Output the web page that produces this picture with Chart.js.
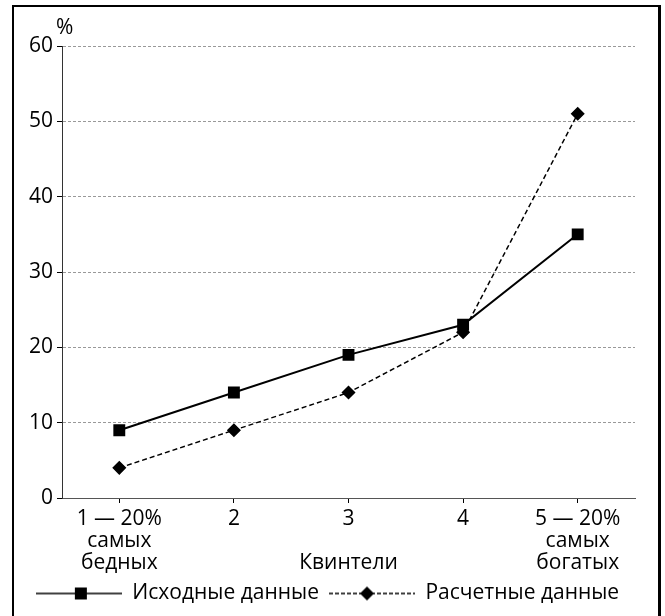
<!DOCTYPE html>
<html>
<head>
<meta charset="utf-8">
<script src="https://cdn.jsdelivr.net/npm/chart.js@4"></script>
<style>
  html, body { margin: 0; padding: 0; background: #fff; }
  #wrap { position: relative; width: 665px; height: 616px; }
  #frame {
    position: absolute; left: 12px; top: 5px; width: 644px; height: 640px;
    border-left: 2px solid #000; border-top: 2px solid #000; border-right: 3px solid #000;
  }
  canvas { position: absolute; left: 0; top: 0; }
</style>
</head>
<body>
<div id="wrap">
  <div id="frame"></div>
  <canvas id="chart" width="665" height="616"></canvas>
</div>
<script>
// ── Data ──────────────────────────────────────────────────
const quintiles  = [['1 — 20%', 'самых', 'бедных'], '2', '3', '4', ['5 — 20%', 'самых', 'богатых']];
const sourceData = [9, 14, 19, 23, 35];   // Исходные данные
const calcData   = [4, 9, 14, 22, 51];    // Расчетные данные
const yTicks     = [0, 10, 20, 30, 40, 50, 60];

const FONT = 'Open Sans, Lato, sans-serif';
const FS   = 21;

// legend symbol: line with a marker in the middle
function legendSymbol(dashed, marker) {
  const c = document.createElement('canvas');
  c.width = 86; c.height = 16;
  const g = c.getContext('2d');
  g.strokeStyle = '#000';
  g.lineWidth = dashed ? 1.3 : 1.6;
  if (dashed) g.setLineDash([4, 2]);
  g.beginPath(); g.moveTo(0, 8); g.lineTo(86, 8); g.stroke();
  g.setLineDash([]);
  g.fillStyle = '#000';
  if (marker === 'rect') {
    g.fillRect(45 - 6, 2, 12, 12);
  } else {
    g.beginPath();
    g.moveTo(38, 1); g.lineTo(45, 8); g.lineTo(38, 15); g.lineTo(31, 8);
    g.closePath(); g.fill();
  }
  return c;
}

// "%" over the y axis
const percentLabel = {
  id: 'percentLabel',
  afterDraw(chart) {
    const { ctx, chartArea } = chart;
    ctx.save();
    ctx.font = FS + 'px ' + FONT;
    ctx.fillStyle = '#000';
    ctx.textAlign = 'left';
    ctx.textBaseline = 'alphabetic';
    ctx.fillText('%', chartArea.left - 6, chartArea.top - 12);
    ctx.restore();
  }
};

const symbols = [legendSymbol(false, 'rect'), legendSymbol(true, 'diamond')];

new Chart(document.getElementById('chart'), {
  type: 'line',
  data: {
    labels: quintiles,
    datasets: [
      {
        label: 'Исходные данные',
        data: sourceData,
        borderColor: '#000',
        backgroundColor: '#000',
        borderWidth: 2,
        pointStyle: 'rect',
        pointRadius: 7,
        tension: 0
      },
      {
        label: 'Расчетные данные',
        data: calcData,
        borderColor: '#000',
        backgroundColor: '#000',
        borderWidth: 1.5,
        borderDash: [5, 3],
        pointStyle: 'rectRot',
        pointRadius: 6,
        tension: 0
      }
    ]
  },
  options: {
    responsive: false,
    animation: false,
    layout: { padding: { left: 20, right: 30, top: 46, bottom: 2 } },
    plugins: {
      tooltip: { enabled: false },
      legend: {
        position: 'bottom',
        labels: {
          usePointStyle: true,
          pointStyleWidth: 86,
          padding: 10,
          color: '#000',
          font: { family: FONT, size: FS },
          generateLabels: chart => chart.data.datasets.map((ds, i) => ({
            text: ds.label,
            pointStyle: symbols[i],
            datasetIndex: i,
            lineWidth: 0,
            fontColor: '#000'
          }))
        }
      }
    },
    scales: {
      x: {
        offset: true,
        afterFit: axis => { axis.height = 75; },
        border: { display: true, color: '#555', dash: [4, 3] },
        grid: { drawOnChartArea: false, drawTicks: true, tickLength: 5, tickColor: '#000', offset: false },
        ticks: { color: '#000', font: { family: FONT, size: FS, lineHeight: 1.05 }, padding: 5, maxRotation: 0 },
        title: {
          display: true, text: 'Квинтели', color: '#000',
          font: { family: FONT, size: FS }, padding: { top: 0, bottom: -2.6 }
        }
      },
      y: {
        min: 0, max: 60,
        afterBuildTicks: axis => { axis.ticks = yTicks.map(v => ({ value: v })); },
        afterFit: axis => { axis.width = 42; },
        border: { display: true, color: '#333', width: 1, dash: [3, 2] },
        grid: { color: '#999', lineWidth: 1, tickColor: '#000', tickLength: 5 },
        ticks: { color: '#000', font: { family: FONT, size: FS }, padding: 4 }
      }
    }
  },
  plugins: [percentLabel]
});
</script>
</body>
</html>
